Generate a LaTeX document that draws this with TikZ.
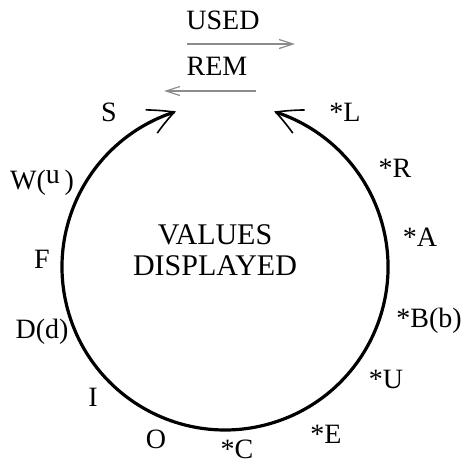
\documentclass[tikz,border=0pt]{standalone}
\usepackage{fontspec}
\setmainfont{Liberation Serif}
\usetikzlibrary{arrows.meta,bending}
\begin{document}
\begin{tikzpicture}[x=0.5pt,y=0.5pt,
  lbl/.style={inner sep=0pt, font=\fontsize{14}{16}\selectfont},
  big/.style={inner sep=0pt, align=center, font=\fontsize{15}{15.5}\selectfont},
  cyc/.style={line width=1.6pt, line cap=round,
    {Straight Barb[length=12.5pt,width=13pt,line width=0.8pt 0,bend]}-{Straight Barb[length=12.5pt,width=13pt,line width=0.8pt 0,bend]}},
  flow/.style={draw=gray!90, line width=0.7pt, -{Straight Barb[length=7pt,width=4.5pt,line width=0.6pt 0]}}]
\useasboundingbox (0,0) rectangle (464,-462);
% labels
\node[lbl] (used) at (223,-20) {USED};
\node[lbl] (rem) at (217,-66) {REM};
\coordinate (u1) at (187,-44);
\coordinate (u2) at (295,-44);
\coordinate (r1) at (256,-91);
\coordinate (r2) at (164,-91);
\draw[flow] (u1) -- (u2);
\draw[flow] (r1) -- (r2);
% cycle
\coordinate (c) at (225,-268);
\draw[cyc] (176.0,-111.5) arc[start angle=107.5, end angle=432.5, radius=163];
\node[big] (vd) at (215,-250) {VALUES\\DISPLAYED};
\node[lbl] (S) at (109,-112) {S};
\node[lbl] (W) at (42,-183) {W(\raisebox{0.45ex}{u}\,)};
\node[lbl] (F) at (42,-259) {F};
\node[lbl] (D) at (42,-332) {D(d)};
\node[lbl] (I) at (93,-397) {I};
\node[lbl] (O) at (156,-439) {O};
\node[lbl] (C) at (237,-449) {*C};
\node[lbl] (E) at (326,-434) {*E};
\node[lbl] (U) at (386,-379) {*U};
\node[lbl] (B) at (429,-321) {*B(b)};
\node[lbl] (A) at (420,-237) {*A};
\node[lbl] (R) at (395,-168) {*R};
\node[lbl] (L) at (345,-112) {*L};
\end{tikzpicture}
\end{document}
